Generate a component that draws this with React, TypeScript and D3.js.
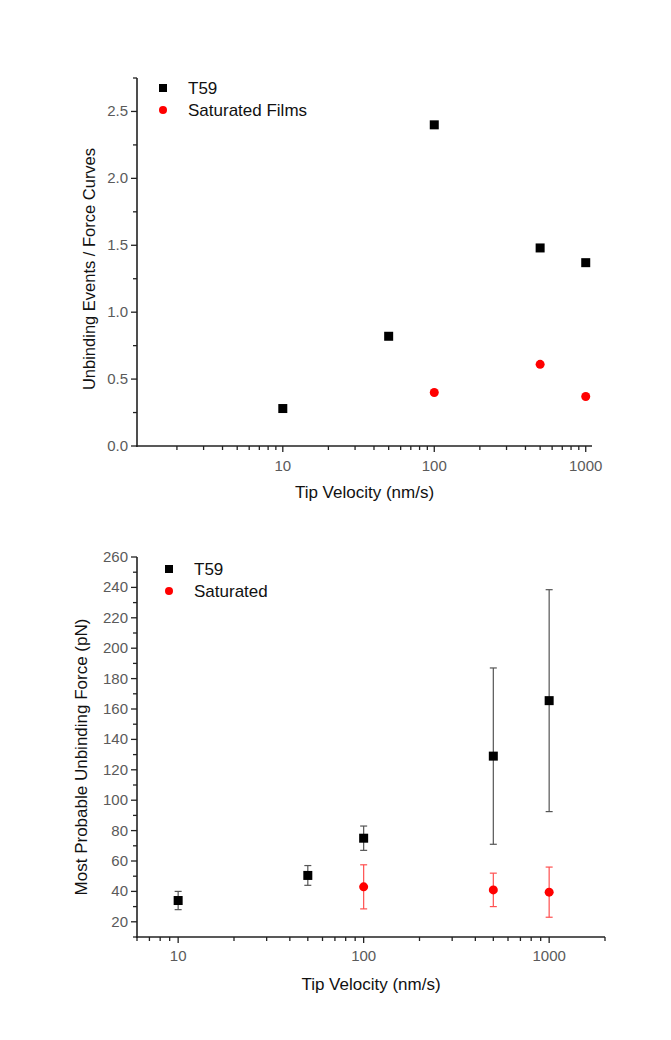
import React from "react";
import * as d3 from "d3";

// ---- Data: top chart (Unbinding Events / Force Curves) ----
const topT59Velocity = [10, 50, 100, 500, 1000];
const topT59Values = [0.28, 0.82, 2.4, 1.48, 1.37];
const topSatVelocity = [100, 500, 1000];
const topSatValues = [0.4, 0.61, 0.37];
const topYTicks = [0, 0.5, 1.0, 1.5, 2.0, 2.5];
const topXTickLabels = [10, 100, 1000];

// ---- Data: bottom chart (Most Probable Unbinding Force) ----
const botT59Velocity = [10, 50, 100, 500, 1000];
const botT59Values = [34, 50.5, 75, 129, 165.5];
const botT59Err = [6, 6.5, 8, 58, 73];
const botSatVelocity = [100, 500, 1000];
const botSatValues = [43, 41, 39.5];
const botSatErr = [14.5, 11, 16.5];
const botYTicks = [20, 40, 60, 80, 100, 120, 140, 160, 180, 200, 220, 240, 260];
const botXTickLabels = [10, 100, 1000];

const FONT = "'Liberation Sans', Arial, Helvetica, sans-serif";
const AXIS = "#222";
const TICKTXT = "#5a5a5a";

function logMinorTicks(domain: [number, number]) {
  const out: number[] = [];
  for (let e = -1; e <= 5; e++) {
    for (let m = 1; m <= 9; m++) {
      const v = m * Math.pow(10, e);
      if (v >= domain[0] * 0.999 && v <= domain[1] * 1.001) out.push(v);
    }
  }
  return out;
}

function Axes({ x, y, xDomain, yMajor, yMinor, xLabels, yFmt, xTitle, yTitle, xTitleY, yTitleX, yTitleY, yTitleSize, xLabelY }: any) {
  const [x0, x1] = x.range();
  const [y0, y1] = y.range();
  const minors = logMinorTicks(xDomain);
  return (
    <g>
      {/* x axis */}
      <line x1={x0 - 1} x2={x1} y1={y0} y2={y0} stroke={AXIS} strokeWidth={1.6} />
      {minors.map((v: number, i: number) => {
        const major = xLabels.includes(v);
        return (
          <line key={"xm" + i} x1={x(v)} x2={x(v)} y1={y0} y2={y0 + (major ? 6 : 4)} stroke={AXIS} strokeWidth={1.3} />
        );
      })}
      {xLabels.map((v: number) => (
        <text key={"xl" + v} x={x(v)} y={xLabelY} textAnchor="middle" fontSize={15} fill={TICKTXT} fontFamily={FONT}>
          {v}
        </text>
      ))}
      {/* y axis */}
      <line x1={x0} x2={x0} y1={y0 + 1} y2={y1} stroke={AXIS} strokeWidth={1.6} />
      {yMinor.map((v: number, i: number) => (
        <line key={"ym" + i} x1={x0 - 4} x2={x0} y1={y(v)} y2={y(v)} stroke={AXIS} strokeWidth={1.3} />
      ))}
      {yMajor.map((v: number) => (
        <g key={"yl" + v}>
          <line x1={x0 - 6} x2={x0} y1={y(v)} y2={y(v)} stroke={AXIS} strokeWidth={1.3} />
          <text x={x0 - 9} y={y(v) + 5} textAnchor="end" fontSize={15} fill={TICKTXT} fontFamily={FONT}>
            {yFmt(v)}
          </text>
        </g>
      ))}
      <text x={(x0 + x1) / 2} y={xTitleY} textAnchor="middle" fontSize={17} fill="#111" fontFamily={FONT}>
        {xTitle}
      </text>
      <text
        transform={`translate(${yTitleX},${yTitleY}) rotate(-90)`}
        textAnchor="middle"
        fontSize={yTitleSize}
        fill="#111"
        fontFamily={FONT}
      >
        {yTitle}
      </text>
    </g>
  );
}

function Legend({ x, y, labels }: { x: number; y: number; labels: string[] }) {
  return (
    <g fontFamily={FONT} fontSize={17} fill="#111">
      <rect x={x - 4} y={y - 4} width={8} height={8} fill="#000" />
      <text x={x + 25} y={y + 6}>{labels[0]}</text>
      <circle cx={x} cy={y + 22} r={4} fill="#ff0000" />
      <text x={x + 25} y={y + 28}>{labels[1]}</text>
    </g>
  );
}

export default function App() {
  // Top chart scales
  const tDomain: [number, number] = [1.09, 1100];
  const tx = d3.scaleLog().domain(tDomain).range([137, 592]);
  const ty = d3.scaleLinear().domain([0, 2.75]).range([446, 78]);
  const tyMinor = d3.range(0.25, 2.76, 0.5);

  // Bottom chart scales
  const bDomain: [number, number] = [6, 2000];
  const bx = d3.scaleLog().domain(bDomain).range([137, 605]);
  const by = d3.scaleLinear().domain([10, 260]).range([937, 557]);
  const byMinor = d3.range(10, 251, 20);

  return (
    <svg width={671} height={1040} style={{ position: "absolute", left: 0, top: 0, background: "#fff" }}>
      <rect x={0} y={0} width={671} height={1040} fill="#fff" />
      {/* ---------- Top chart ---------- */}
      <Axes
        x={tx}
        y={ty}
        xDomain={tDomain}
        yMajor={topYTicks}
        yMinor={tyMinor}
        xLabels={topXTickLabels}
        yFmt={(v: number) => v.toFixed(1)}
        xTitle="Tip Velocity (nm/s)"
        yTitle="Unbinding Events / Force Curves"
        xTitleY={498}
        yTitleX={95}
        yTitleY={269}
        yTitleSize={16.5}
        xLabelY={471}
      />
      {topT59Velocity.map((v, i) => (
        <rect key={"tt" + i} x={tx(v) - 4.5} y={ty(topT59Values[i]) - 4.5} width={9} height={9} fill="#000" />
      ))}
      {topSatVelocity.map((v, i) => (
        <circle key={"ts" + i} cx={tx(v)} cy={ty(topSatValues[i])} r={4.5} fill="#ff0000" />
      ))}
      <Legend x={163} y={88} labels={["T59", "Saturated Films"]} />

      {/* ---------- Bottom chart ---------- */}
      <Axes
        x={bx}
        y={by}
        xDomain={bDomain}
        yMajor={botYTicks}
        yMinor={byMinor}
        xLabels={botXTickLabels}
        yFmt={(v: number) => String(v)}
        xTitle="Tip Velocity (nm/s)"
        yTitle="Most Probable Unbinding Force (pN)"
        xTitleY={990}
        yTitleX={87}
        yTitleY={757}
        yTitleSize={17}
        xLabelY={961}
      />
      {botT59Velocity.map((v, i) => {
        const cx = bx(v);
        const hi = by(botT59Values[i] + botT59Err[i]);
        const lo = by(botT59Values[i] - botT59Err[i]);
        return (
          <g key={"be" + i} stroke="#555" strokeWidth={1.2}>
            <line x1={cx} x2={cx} y1={hi} y2={lo} />
            <line x1={cx - 3.5} x2={cx + 3.5} y1={hi} y2={hi} />
            <line x1={cx - 3.5} x2={cx + 3.5} y1={lo} y2={lo} />
          </g>
        );
      })}
      {botSatVelocity.map((v, i) => {
        const cx = bx(v);
        const hi = by(botSatValues[i] + botSatErr[i]);
        const lo = by(botSatValues[i] - botSatErr[i]);
        return (
          <g key={"bse" + i} stroke="#ff5050" strokeWidth={1.2}>
            <line x1={cx} x2={cx} y1={hi} y2={lo} />
            <line x1={cx - 3.5} x2={cx + 3.5} y1={hi} y2={hi} />
            <line x1={cx - 3.5} x2={cx + 3.5} y1={lo} y2={lo} />
          </g>
        );
      })}
      {botT59Velocity.map((v, i) => (
        <rect key={"bt" + i} x={bx(v) - 4.5} y={by(botT59Values[i]) - 4.5} width={9} height={9} fill="#000" />
      ))}
      {botSatVelocity.map((v, i) => (
        <circle key={"bs" + i} cx={bx(v)} cy={by(botSatValues[i])} r={4.5} fill="#ff0000" />
      ))}
      <Legend x={169} y={569} labels={["T59", "Saturated"]} />
    </svg>
  );
}
